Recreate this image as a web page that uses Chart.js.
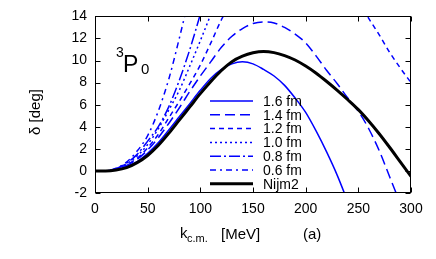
<!DOCTYPE html>
<html>
<head>
<meta charset="utf-8">
<script src="https://cdn.jsdelivr.net/npm/chart.js@4.4.1/dist/chart.umd.min.js"></script>
<style>
html, body { margin: 0; padding: 0; background: #fff; }
#wrap { width: 436px; height: 259px; }
</style>
</head>
<body>
<div id="wrap"><canvas id="phaseChart"></canvas></div>
<script>
// k_cm grid in MeV (values every 10 MeV)
const kcm = [0,10,20,30,40,50,60,70,80,90,100,110,120,130,140,150,160,170,180,190,200,210,220,230,240,250,260,270,280,290,300];

// phase shifts in degrees, null where the curve has left the frame
const cut16 = [0,0,0.12,0.4,0.85,1.6,2.55,3.7,4.9,6.1,7.3,8.4,9.2,9.7,9.88,9.7,9.2,8.6,7.75,6.6,5.3,3.6,1.7,-0.4,-2.8,null,null,null,null,null,null];
const cut14 = [0,0,0.15,0.5,1.05,1.9,3.0,4.3,5.7,7.2,8.6,9.9,11.2,12.2,12.9,13.35,13.5,13.4,13.0,12.4,11.6,10.4,9.1,7.9,6.6,5.4,3.8,1.8,-0.6,-3.0,null];
const cut12 = [0,0,0.2,0.55,1.15,2.1,3.3,4.8,6.3,7.9,9.6,11.6,13.7,15.4,16.8,17.9,18.7,19.3,19.6,19.7,19.6,19.3,18.8,18.0,16.9,15.4,13.8,12.3,10.7,9.3,8.0];
const cut10 = [0,0,0.2,0.65,1.35,2.4,3.8,5.5,7.3,9.5,11.8,14.2,16.7,null,null,null,null,null,null,null,null,null,null,null,null,null,null,null,null,null,null];
const cut08 = [0,0,0.2,0.7,1.5,2.7,4.0,5.8,8.2,11.0,14.2,17.5,null,null,null,null,null,null,null,null,null,null,null,null,null,null,null,null,null,null,null];
const cut06 = [0,0,0.25,0.8,1.8,3.2,5.4,8.3,12.0,16.0,null,null,null,null,null,null,null,null,null,null,null,null,null,null,null,null,null,null,null,null,null];
const nijm2 = [0,0,0.08,0.3,0.75,1.4,2.3,3.4,4.6,5.8,7.0,8.1,9.1,9.9,10.4,10.7,10.82,10.72,10.45,10.05,9.5,8.85,8.1,7.3,6.45,5.55,4.5,3.35,2.1,0.8,-0.5];

const seriesLabels = ['1.6 fm','1.4 fm','1.2 fm','1.0 fm','0.8 fm','0.6 fm','Nijm2'];
const xTicks = [0,50,100,150,200,250,300];
const yTicks = [-2,0,2,4,6,8,10,12,14];

const BLUE = 'rgb(0,0,255)';
const FONT = '"Liberation Sans", Arial, sans-serif';

function toPoints(vals) {
    return kcm.map((k, i) => ({x: k, y: vals[i]}));
}

function makeSet(label, vals, dash, color, width, order) {
    return {
        label: label,
        data: toPoints(vals),
        borderColor: color,
        borderWidth: width,
        borderDash: dash,
        pointRadius: 0,
        cubicInterpolationMode: 'monotone',
        spanGaps: false,
        clip: 0,
        order: order
    };
}

const datasets = [
    makeSet(seriesLabels[0], cut16, [], BLUE, 1.5, 6),
    makeSet(seriesLabels[1], cut14, [10,5], BLUE, 1.5, 5),
    makeSet(seriesLabels[2], cut12, [5,4], BLUE, 1.5, 4),
    makeSet(seriesLabels[3], cut10, [2,3], BLUE, 1.5, 3),
    makeSet(seriesLabels[4], cut08, [11,3,2,3], BLUE, 1.5, 2),
    makeSet(seriesLabels[5], cut06, [6,4,2,4], BLUE, 1.5, 1),
    makeSet(seriesLabels[6], nijm2, [], '#000', 3, 0)
];

// frame, inward ticks, legend and titles
const decorations = {
    id: 'decorations',
    afterDatasetsDraw(chart) {
        const ctx = chart.ctx;
        const a = chart.chartArea;
        const xs = chart.scales.x, ys = chart.scales.y;
        ctx.save();

        // frame
        ctx.strokeStyle = '#000';
        ctx.lineWidth = 1;
        ctx.setLineDash([]);
        const L = Math.round(a.left) + 0.5, R = Math.round(a.right) - 0.5;
        const T = Math.round(a.top) + 0.5, B = Math.round(a.bottom) - 0.5;
        ctx.strokeRect(L, T, R - L, B - T);

        // ticks pointing inward on all four sides
        ctx.beginPath();
        xTicks.forEach(v => {
            const px = Math.round(xs.getPixelForValue(v)) + 0.5;
            ctx.moveTo(px, B); ctx.lineTo(px, B - 5);
            ctx.moveTo(px, T); ctx.lineTo(px, T + 5);
        });
        yTicks.forEach(v => {
            const py = Math.round(ys.getPixelForValue(v)) + 0.5;
            ctx.moveTo(L, py); ctx.lineTo(L + 5, py);
            ctx.moveTo(R, py); ctx.lineTo(R - 5, py);
        });
        ctx.stroke();

        // legend
        ctx.font = '14px ' + FONT;
        ctx.textBaseline = 'middle';
        ctx.fillStyle = '#000';
        chart.data.datasets.forEach((ds, i) => {
            const yy = 101 + i * 13.8;
            ctx.strokeStyle = ds.borderColor;
            ctx.lineWidth = ds.borderWidth;
            ctx.setLineDash(ds.borderDash);
            ctx.beginPath();
            ctx.moveTo(210, yy);
            ctx.lineTo(253, yy);
            ctx.stroke();
            ctx.fillText(ds.label, 263, yy + 1);
        });
        ctx.setLineDash([]);

        // 3P0 label
        ctx.textBaseline = 'alphabetic';
        ctx.font = '14px ' + FONT;
        ctx.fillText('3', 116, 57);
        ctx.font = '23px ' + FONT;
        ctx.fillText('P', 123, 72);
        ctx.font = '15px ' + FONT;
        ctx.fillText('0', 141, 74);

        // x title
        ctx.font = '15px ' + FONT;
        ctx.fillText('k', 180, 238);
        ctx.font = '11px ' + FONT;
        ctx.fillText('c.m.', 187, 242);
        ctx.font = '15px ' + FONT;
        ctx.fillText('[MeV]', 221, 239);
        ctx.fillText('(a)', 303, 239);

        // y title
        ctx.translate(40, 112);
        ctx.rotate(-Math.PI / 2);
        ctx.textAlign = 'center';
        ctx.fillText('\u03B4 [deg]', 0, 0);
        ctx.restore();
    }
};

Chart.defaults.color = '#000';
Chart.defaults.font.family = FONT;
Chart.defaults.font.size = 14;

new Chart(document.getElementById('phaseChart'), {
    type: 'line',
    data: { datasets: datasets },
    options: {
        responsive: true,
        maintainAspectRatio: false,
        animation: false,
        devicePixelRatio: 1,
        layout: { padding: { top: 16, right: 25, left: 0, bottom: 0 } },
        plugins: { legend: { display: false }, tooltip: { enabled: false } },
        scales: {
            x: {
                type: 'linear',
                min: 0, max: 300,
                afterFit: s => { s.height = 66; },
                afterBuildTicks: s => { s.ticks = xTicks.map(v => ({value: v})); },
                grid: { display: false, drawTicks: false },
                border: { display: false },
                ticks: { padding: 8, maxRotation: 0, color: '#000' }
            },
            y: {
                type: 'linear',
                min: -2, max: 14,
                afterFit: s => { s.width = 95; },
                afterBuildTicks: s => { s.ticks = yTicks.map(v => ({value: v})); },
                grid: { display: false, drawTicks: false },
                border: { display: false },
                ticks: { padding: 8, color: '#000' }
            }
        }
    },
    plugins: [decorations]
});
</script>
</body>
</html>
